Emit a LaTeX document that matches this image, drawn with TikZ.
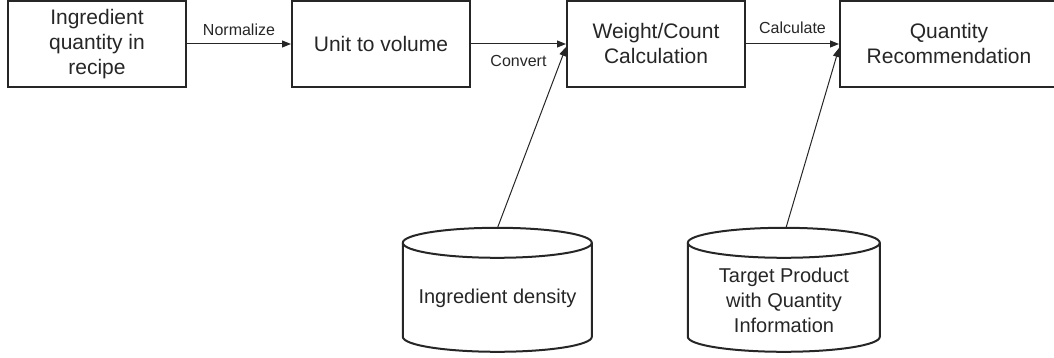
\documentclass[tikz,border=0pt]{standalone}
\usepackage{fontspec}
\setmainfont{Liberation Sans}
\usetikzlibrary{arrows.meta}
\begin{document}
\begin{tikzpicture}[x=1pt,y=1pt,
  box/.style={draw=black!85, line width=2pt, minimum width=178pt, minimum height=86pt, align=center, font=\fontsize{21}{25}\selectfont, text=black!85, inner sep=2pt},
  conn/.style={draw=black!85, line width=1pt, -{Triangle[length=9pt,width=7pt]}},
  lbl/.style={font=\fontsize{16}{19}\selectfont, text=black!85},
  cyl/.style={draw=black!85, line width=2pt},
  cyltext/.style={align=center, font=\fontsize{20}{25}\selectfont, text=black!85}]
\useasboundingbox (0,0) rectangle (1054,358);
% boxes
\node[box] (b1) at (97,314) {Ingredient\\quantity in\\recipe};
\node[box] (b2) at (381,314) {Unit to volume};
\node[box] (b3) at (656,314) {Weight/Count\\Calculation};
\node[box, minimum width=218pt] (b4) at (949,314) {Quantity\\Recommendation};
% cylinders (invisible body nodes)
\node[minimum width=189pt, minimum height=124pt, inner sep=0pt] (c1) at (497.5,68) {};
\node[minimum width=192pt, minimum height=124pt, inner sep=0pt] (c2) at (784,68) {};
\draw[cyl] (c1.north west) ++(0,-15) -- ++(0,-94) arc (180:360:94.5 and 15) -- ++(0,94) arc (0:180:94.5 and 15) -- cycle;
\draw[cyl] (c1.north west) ++(0,-15) arc (180:360:94.5 and 15);
\draw[cyl] (c2.north west) ++(0,-15) -- ++(0,-94) arc (180:360:96 and 15) -- ++(0,94) arc (0:180:96 and 15) -- cycle;
\draw[cyl] (c2.north west) ++(0,-15) arc (180:360:96 and 15);
\node[cyltext] (t1) at (497.5,60) {Ingredient density};
\node[cyltext] (t2) at (784,58) {Target Product\\with Quantity\\Information};
% connectors
\draw[conn] (b1.east) -- node[lbl, above=5pt] (l1) {Normalize} (b2.west);
\draw[conn] (b2.east) -- node[lbl, below=8pt] (l2) {Convert} (b3.west);
\draw[conn] (b3.east) -- node[lbl, above=7pt] (l3) {Calculate} (b4.west);
\draw[conn] (c1.north) -- ([yshift=-3pt]b3.west);
\draw[conn] ([xshift=2pt]c2.north) -- ([yshift=-4pt]b4.west);
\end{tikzpicture}
\end{document}
